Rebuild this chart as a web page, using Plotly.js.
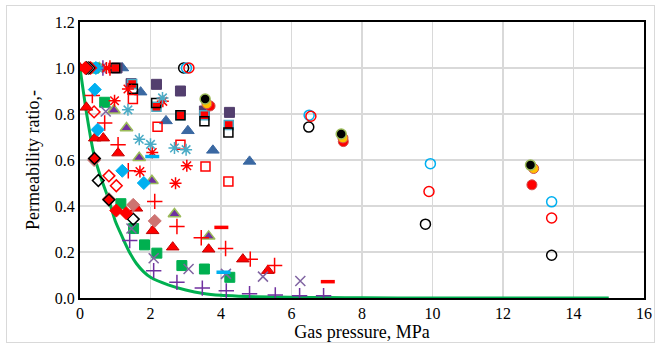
<!DOCTYPE html>
<html>
<head>
<meta charset="utf-8">
<script src="https://cdn.plot.ly/plotly-3.0.1.min.js"></script>
<style>
  html, body { margin: 0; padding: 0; background: #ffffff; }
  #chart { position: absolute; left: 0; top: 0; width: 660px; height: 348px; }
  #frame { position: absolute; left: 6px; top: 5px; width: 647px; height: 336px;
           border: 1px solid #d9d9d9; pointer-events: none; }
</style>
</head>
<body>
<div id="chart"></div>
<div id="frame"></div>
<script>
// Gas pressure (MPa) and permeability ratio for each test series.

// Model curve
const curveP = [0, 0.2, 0.4, 0.6, 0.8, 1.0, 1.2, 1.4, 1.6, 1.8, 2.0, 2.5, 3.0, 3.5, 4.0, 4.5, 5.0, 6.0, 7.0, 8.0, 10.0, 12.0, 15.0];
const curveK = [1.0, 0.79, 0.62, 0.52, 0.435, 0.335, 0.265, 0.2, 0.15, 0.115, 0.09, 0.057, 0.035, 0.02, 0.012, 0.008, 0.005, 0.003, 0.002, 0.001, 0, 0, 0];

// Triangles
const redTriP = [0, 0.18, 0.42, 0.66, 1.08, 1.60, 2.06, 2.63, 3.65, 4.62, 5.33];
const redTriK = [1.0, 0.829, 0.695, 0.695, 0.63, 0.39, 0.292, 0.221, 0.212, 0.169, 0.119];
const blueTriP = [1.2, 1.72, 2.44, 3.06, 3.77, 4.81];
const blueTriK = [1.0, 0.895, 0.77, 0.727, 0.642, 0.594];
const purpleTriP = [0.55, 0.96, 1.32, 1.68, 2.04, 2.68, 3.65];
const purpleTriK = [1.0, 0.816, 0.739, 0.61, 0.51, 0.365, 0.268];

// Squares
const darkSqP = [1.05, 1.45, 2.17, 2.85, 3.53, 4.24];
const darkSqK = [1.0, 0.932, 0.929, 0.9, 0.813, 0.807];
const redSqOpenP = [0.95, 1.5, 2.2, 2.85, 3.56, 4.21];
const redSqOpenK = [1.0, 0.865, 0.745, 0.666, 0.572, 0.507];
const tealRedSqP = [1.0, 1.48, 2.17, 2.85, 3.53, 4.22];
const tealRedSqK = [1.0, 0.93, 0.832, 0.795, 0.795, 0.752];
const blackSqP = [1.0, 1.5, 2.16, 2.85, 3.53, 4.21];
const blackSqK = [1.0, 0.91, 0.848, 0.795, 0.768, 0.72];
const greenSqP = [0.4, 0.7, 1.16, 1.52, 1.83, 2.18, 2.89, 3.53, 4.25];
const greenSqK = [1.0, 0.851, 0.41, 0.302, 0.231, 0.195, 0.141, 0.126, 0.09];

// Crosses and stars
const purpleXP = [0.6, 0.73, 1.46, 2.09, 3.08, 4.14, 5.19, 6.25];
const purpleXK = [1.0, 0.811, 0.302, 0.173, 0.126, 0.105, 0.093, 0.074];
const purplePlusP = [0.65, 1.41, 2.09, 2.75, 3.47, 4.15, 4.81, 5.54, 6.23, 6.91];
const purplePlusK = [1.0, 0.25, 0.119, 0.068, 0.043, 0.031, 0.019, 0.013, 0.01, 0.01];
const redPlusP = [0.85, 0.35, 0.70, 1.08, 1.37, 2.12, 2.75, 3.44, 4.13, 4.83, 5.52];
const redPlusK = [1.0, 0.88, 0.761, 0.666, 0.553, 0.42, 0.311, 0.262, 0.215, 0.169, 0.141];
const redStarP = [0.75, 0.98, 1.36, 1.70, 2.05, 2.35, 2.71, 3.03];
const redStarK = [1.0, 0.858, 0.909, 0.55, 0.633, 0.855, 0.499, 0.575];
const tealStarP = [0.5, 1.36, 1.68, 2.0, 2.34, 2.68, 3.01];
const tealStarK = [1.0, 0.818, 0.69, 0.668, 0.87, 0.652, 0.645];

// Diamonds
const blueDiaP = [0.45, 0.42, 0.50, 1.20, 1.81];
const blueDiaK = [1.0, 0.906, 0.732, 0.553, 0.5];
const redDiaOpenP = [0.3, 0.40, 0.82, 1.03];
const redDiaOpenK = [1.0, 0.809, 0.531, 0.488];
const blackDiaOpenP = [0.25, 0.52, 1.51];
const blackDiaOpenK = [1.0, 0.511, 0.343];
const pinkDiaP = [0.2, 0.40, 0.82, 1.51, 2.12];
const pinkDiaK = [1.0, 0.6, 0.43, 0.405, 0.335];
const redBlackDiaP = [0.18, 0.41, 0.82];
const redBlackDiaK = [1.0, 0.607, 0.427];
const redDiaP = [0.15, 1.03, 1.31];
const redDiaK = [1.0, 0.38, 0.369];

// Dashes
const redDashP = [4.01, 7.03];
const redDashK = [0.307, 0.071];
const blueDashP = [2.05, 4.07];
const blueDashK = [0.615, 0.112];

// Circles
const blackCircP = [2.94, 6.49, 9.80, 13.38];
const blackCircK = [1.0, 0.743, 0.321, 0.186];
const blueCircP = [3.02, 6.5, 9.94, 13.38];
const blueCircK = [1.0, 0.795, 0.584, 0.418];
const redCircP = [3.09, 6.55, 9.90, 13.38];
const redCircK = [1.0, 0.79, 0.463, 0.348];
const redDotP = [3.69, 7.47, 12.82];
const redDotK = [0.835, 0.68, 0.492];
const orangeDotP = [3.6, 7.46, 12.87];
const orangeDotK = [0.845, 0.696, 0.563];
const blackDotP = [3.55, 7.41, 12.78];
const blackDotK = [0.865, 0.713, 0.578];

const xTicks = [0, 2, 4, 6, 8, 10, 12, 14, 16];
const yTicks = [0, 0.2, 0.4, 0.6, 0.8, 1.0, 1.2];

function pts(x, y, symbol, size, color, lineColor, lineWidth) {
  return {
    type: 'scatter', mode: 'markers', x: x, y: y, hoverinfo: 'skip',
    marker: { symbol: symbol, size: size, color: color,
              line: { color: lineColor, width: lineWidth } }
  };
}

const traces = [
  { type: 'scatter', mode: 'lines', x: curveP, y: curveK, hoverinfo: 'skip',
    line: { color: '#00b050', width: 3, shape: 'spline', smoothing: 0.6 } },
  pts(redTriP, redTriK, 'triangle-up', 11, '#ff0000', '#c00000', 1),
  pts(blueTriP, blueTriK, 'triangle-up', 11, '#3a68a2', '#3a68a2', 1),
  pts(purpleTriP, purpleTriK, 'triangle-up', 11, '#7030a0', '#9bbb59', 1.5),
  pts(darkSqP, darkSqK, 'square', 10, '#533f6e', '#533f6e', 1),
  pts(redSqOpenP, redSqOpenK, 'square-open', 9, '#ff0000', '#ff0000', 1.5),
  pts(tealRedSqP, tealRedSqK, 'square', 9, '#ff0000', '#4bacc6', 1.5),
  pts(blackSqP, blackSqK, 'square-open', 9, '#000000', '#000000', 1.5),
  pts(greenSqP, greenSqK, 'square', 10, '#00b050', '#00b050', 1),
  pts(purpleXP, purpleXK, 'x-thin-open', 10, '#8064a2', '#7a5f9c', 1.5),
  pts(purplePlusP, purplePlusK, 'cross-thin-open', 11, '#7030a0', '#7030a0', 1.5),
  pts(redPlusP, redPlusK, 'cross-thin-open', 11, '#ff0000', '#ff0000', 1.5),
  pts(redStarP, redStarK, 'asterisk-open', 10, '#ff0000', '#ff0000', 1.5),
  pts(tealStarP, tealStarK, 'asterisk-open', 10, '#4bacc6', '#4496b4', 1.5),
  pts(blueDiaP, blueDiaK, 'diamond', 10, '#00b0f0', '#00b0f0', 1),
  pts(redDiaOpenP, redDiaOpenK, 'diamond-open', 9, '#ff0000', '#ff0000', 1.5),
  pts(blackDiaOpenP, blackDiaOpenK, 'diamond-open', 9, '#000000', '#000000', 1.5),
  pts(pinkDiaP, pinkDiaK, 'diamond', 10, '#cd7371', '#cd7371', 1),
  pts(redBlackDiaP, redBlackDiaK, 'diamond', 9, '#ff0000', '#000000', 1.5),
  pts(redDiaP, redDiaK, 'diamond', 10, '#ff0000', '#ff0000', 1),
  pts(redDashP, redDashK, 'line-ew-open', 10, '#ff0000', '#ff0000', 3.5),
  pts(blueDashP, blueDashK, 'line-ew-open', 10, '#00b0f0', '#00b0f0', 3.5),
  pts(blackCircP, blackCircK, 'circle-open', 10, '#000000', '#000000', 1.5),
  pts(blueCircP, blueCircK, 'circle-open', 10, '#00b0f0', '#00b0f0', 1.5),
  pts(redCircP, redCircK, 'circle-open', 10, '#ff0000', '#ff0000', 1.5),
  pts(redDotP, redDotK, 'circle', 10, '#ff0000', '#d0504d', 1),
  pts(orangeDotP, orangeDotK, 'circle', 10, '#ffc000', '#d0504d', 1),
  pts(blackDotP, blackDotK, 'circle', 10, '#000000', '#9bbb59', 1.5)
];

const serif = '"Liberation Serif", "Times New Roman", serif';

const layout = {
  width: 660, height: 348,
  margin: { l: 80, r: 16, t: 22, b: 50 },
  paper_bgcolor: '#ffffff', plot_bgcolor: '#ffffff',
  showlegend: false,
  font: { family: serif, size: 16, color: '#000000' },
  xaxis: {
    range: [0, 16], tickvals: xTicks, ticktext: xTicks.map(String),
    showgrid: true, gridcolor: '#d9d9d9', gridwidth: 1.5,
    zeroline: false, showline: true, linecolor: '#000000', linewidth: 2, mirror: true,
    ticks: '', tickfont: { family: serif, size: 16, color: '#000000' },
    title: { text: 'Gas pressure, MPa', font: { family: serif, size: 18, color: '#000000' }, standoff: 1 }
  },
  yaxis: {
    range: [0, 1.2], tickvals: yTicks, ticktext: yTicks.map(v => v.toFixed(1)),
    showgrid: true, gridcolor: '#d9d9d9', gridwidth: 1.5,
    zeroline: false, showline: true, linecolor: '#000000', linewidth: 2, mirror: true,
    ticks: '', tickfont: { family: serif, size: 16, color: '#000000' },
    title: { text: 'Permeability ratio,-', font: { family: serif, size: 18, color: '#000000' }, standoff: 10 }
  }
};

Plotly.newPlot('chart', traces, layout, { staticPlot: true, displayModeBar: false });
</script>
</body>
</html>
